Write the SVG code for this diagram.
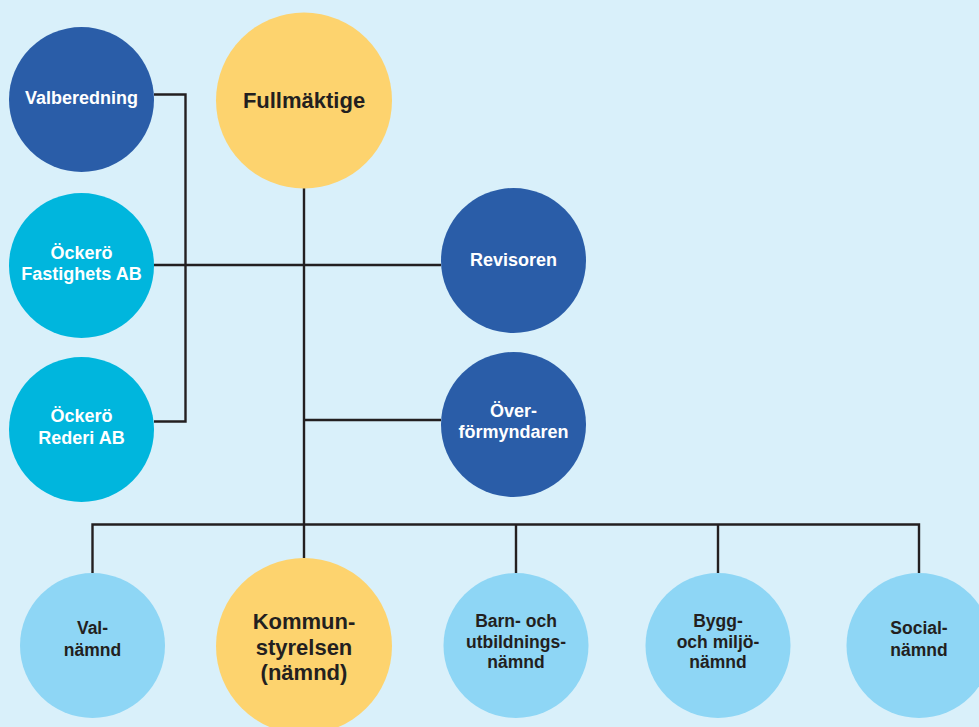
<svg xmlns="http://www.w3.org/2000/svg" width="979" height="727" viewBox="0 0 979 727">
<style>
  .lnk { stroke: #231f20; stroke-width: 2.4; fill: none; }
  .dark { fill: #2a5da8; }
  .cyan { fill: #00b6dd; }
  .light { fill: #8ed6f5; }
  .yellow { fill: #fdd36e; }
  text { font-family: "Liberation Sans", Arial, sans-serif; font-weight: bold; text-anchor: middle; }
  .w { fill: #ffffff; font-size: 18px; }
  .k { fill: #231f20; font-size: 17.5px; }
  .big { fill: #231f20; font-size: 22px; }
</style>
<rect x="0" y="0" width="979" height="727" fill="#d9f0fa"/>
<g id="connectors">
  <path class="lnk" d="M154 94.5 H185.5 V421.5 H154"/>
  <path class="lnk" d="M154 265 H441"/>
  <path class="lnk" d="M304 188 V558"/>
  <path class="lnk" d="M304 420 H441"/>
  <path class="lnk" d="M92.5 573 V524.5 H919 V573"/>
  <path class="lnk" d="M516 573 V524.5"/>
  <path class="lnk" d="M718 573 V524.5"/>
</g>
<g id="valberedning">
  <circle class="dark" cx="81.5" cy="99.5" r="72.5"/>
  <text class="w" x="81.5" y="104">Valberedning</text>
</g>
<g id="fullmaktige">
  <circle class="yellow" cx="304" cy="100.5" r="88"/>
  <text class="big" x="304" y="108">Fullmäktige</text>
</g>
<g id="fastighets">
  <circle class="cyan" cx="81.5" cy="265.5" r="72.5"/>
  <text class="w" x="81.5" y="259">Öckerö</text>
  <text class="w" x="81.5" y="280">Fastighets AB</text>
</g>
<g id="rederi">
  <circle class="cyan" cx="81.5" cy="429.5" r="72.5"/>
  <text class="w" x="81.5" y="422">Öckerö</text>
  <text class="w" x="81.5" y="444">Rederi AB</text>
</g>
<g id="revisoren">
  <circle class="dark" cx="513.5" cy="260.5" r="72.5"/>
  <text class="w" x="513.5" y="266">Revisoren</text>
</g>
<g id="overformyndaren">
  <circle class="dark" cx="513.5" cy="424.5" r="72.5"/>
  <text class="w" x="513.5" y="417">Över-</text>
  <text class="w" x="513.5" y="438">förmyndaren</text>
</g>
<g id="valnamnd">
  <circle class="light" cx="92.5" cy="645.5" r="72.5"/>
  <text class="k" x="92.5" y="634">Val-</text>
  <text class="k" x="92.5" y="656">nämnd</text>
</g>
<g id="kommunstyrelsen">
  <circle class="yellow" cx="304" cy="646" r="88"/>
  <text class="big" x="304" y="629">Kommun-</text>
  <text class="big" x="304" y="655">styrelsen</text>
  <text class="big" x="304" y="680">(nämnd)</text>
</g>
<g id="barn">
  <circle class="light" cx="516" cy="645.5" r="72.5"/>
  <text class="k" x="516" y="627">Barn- och</text>
  <text class="k" x="516" y="647.5">utbildnings-</text>
  <text class="k" x="516" y="668">nämnd</text>
</g>
<g id="bygg">
  <circle class="light" cx="718" cy="645.5" r="72.5"/>
  <text class="k" x="718" y="627">Bygg-</text>
  <text class="k" x="718" y="647.5">och miljö-</text>
  <text class="k" x="718" y="668">nämnd</text>
</g>
<g id="social">
  <circle class="light" cx="919" cy="645.5" r="72.5"/>
  <text class="k" x="919" y="634">Social-</text>
  <text class="k" x="919" y="656">nämnd</text>
</g>
</svg>
